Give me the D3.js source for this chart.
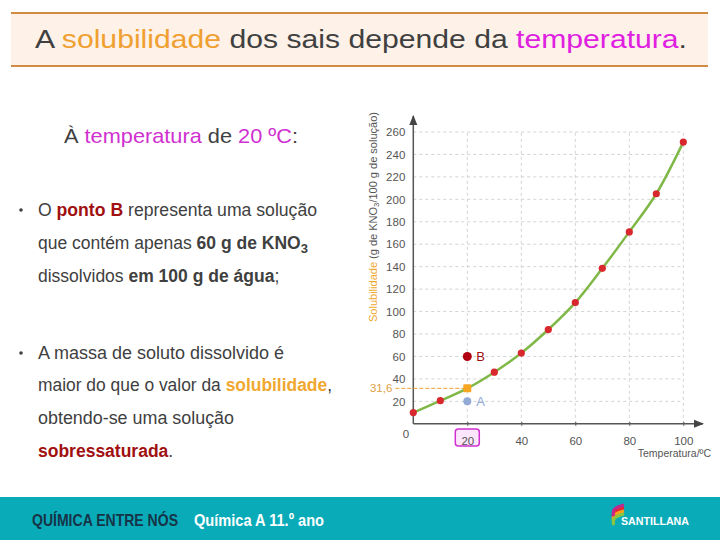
<!DOCTYPE html>
<html><head><meta charset="utf-8">
<script src="https://cdn.jsdelivr.net/npm/d3@7"></script>
<style>body{margin:0;background:#fff}svg{display:block}text{font-family:"Liberation Sans",Arial,sans-serif}</style>
</head><body><svg id="c" width="720" height="540"></svg>
<script>
// Data
const temperatures = [0, 10, 20, 30, 40, 50, 60, 70, 80, 90, 100];
const solubility   = [10, 20.6, 31.6, 46, 63, 84, 108, 138.5, 171, 205, 251];
const xTicks = [20, 40, 60, 80, 100];
const yTicks = [20, 40, 60, 80, 100, 120, 140, 160, 180, 200, 220, 240, 260];
const pointB = {t: 20, s: 60, label: "B"};
const pointA = {t: 20, s: 20, label: "A"};
const pointSat = {t: 20, s: 31.6, label: "31,6"};

const svg = d3.select("#c");

// Title bar
svg.append("rect").attr("x",11).attr("y",13).attr("width",697).attr("height",53).attr("fill","#fdf1e8");
svg.append("line").attr("x1",11).attr("x2",708).attr("y1",13).attr("y2",13).attr("stroke","#d18b43").attr("stroke-width",2);
svg.append("line").attr("x1",11).attr("x2",708).attr("y1",66).attr("y2",66).attr("stroke","#d18b43").attr("stroke-width",2);
const tt = svg.append("text").attr("x",35).attr("y",48).attr("font-size",26).attr("fill","#404040")
  .attr("textLength",652).attr("lengthAdjust","spacingAndGlyphs");
tt.append("tspan").text("A ");
tt.append("tspan").attr("fill","#f0a030").text("solubilidade");
tt.append("tspan").text(" dos sais depende da ");
tt.append("tspan").attr("fill","#e020e0").text("temperatura");
tt.append("tspan").text(".");

// Subtitle
const st = svg.append("text").attr("x",64).attr("y",143).attr("font-size",21).attr("fill","#404040")
  .attr("textLength",234).attr("lengthAdjust","spacingAndGlyphs");
st.append("tspan").text("À ");
st.append("tspan").attr("fill","#d030d0").text("temperatura");
st.append("tspan").text(" de ");
st.append("tspan").attr("fill","#d030d0").text("20 ºC");
st.append("tspan").text(":");

// Bullets
function line(y, parts, w){
  const t = svg.append("text").attr("x",38).attr("y",y).attr("font-size",17.5).attr("fill","#404040");
  parts.forEach(p=>{
    const s = t.append("tspan").text(p[0]);
    if(p[1]) s.attr("fill",p[1]);
    if(p[2]) s.attr("font-weight","bold");
    if(p[3]) s.attr("font-size",13).attr("dy",4);
  });
  if(w) t.attr("textLength",w).attr("lengthAdjust","spacingAndGlyphs");
  return t;
}
svg.append("circle").attr("cx",21).attr("cy",210).attr("r",1.8).attr("fill","#404040");
line(216, [["O "],["ponto B","#a01010",true],[" representa uma solução"]], 279);
line(249, [["que contém apenas "],["60 g de KNO",null,true],["3",null,true,true]]);
line(282, [["dissolvidos "],["em 100 g de água",null,true],[";"]]);
svg.append("circle").attr("cx",21).attr("cy",353).attr("r",1.8).attr("fill","#404040");
line(359, [["A massa de soluto dissolvido é"]], 246);
line(391, [["maior do que o valor da "],["solubilidade","#f0a830",true],[","]], 294);
line(424, [["obtendo-se uma solução"]], 196);
line(457, [["sobressaturada","#a01010",true],["."]]);

// Chart
const x = d3.scaleLinear().domain([0,100]).range([413.3,683.3]);
const y = d3.scaleLinear().domain([0,260]).range([423.8,132]);
const g = svg.append("g");
// grid
g.selectAll(".gx").data(xTicks).join("line").attr("x1",d=>x(d)).attr("x2",d=>x(d)).attr("y1",y(0)).attr("y2",y(260))
  .attr("stroke","#c8c8c8").attr("stroke-dasharray","3,3").attr("stroke-width",0.8);
g.selectAll(".gy").data(yTicks).join("line").attr("x1",x(0)).attr("x2",x(100)).attr("y1",d=>y(d)).attr("y2",d=>y(d))
  .attr("stroke","#c8c8c8").attr("stroke-dasharray","3,3").attr("stroke-width",0.8);

// highlight box around 20
svg.append("rect").attr("x",x(20)-12).attr("y",429).attr("width",24).attr("height",17).attr("rx",3)
  .attr("fill","#fbe6fb").attr("stroke","#d030d0").attr("stroke-width",1.5);

// axes
const xAx = d3.axisBottom(x).tickValues(xTicks).tickSize(4).tickFormat(d=>d);
const xg = svg.append("g").attr("transform",`translate(0,${y(0)})`).call(xAx);
xg.select(".domain").remove();
xg.selectAll(".tick line").attr("stroke","#555").attr("transform","translate(0,-2)");
xg.selectAll(".tick text").attr("font-size",11.5).attr("fill","#555").attr("dy","1.25em")
  .attr("font-family","Liberation Sans, Arial, sans-serif");
const yAx = d3.axisLeft(y).tickValues(yTicks).tickSize(0).tickPadding(8);
const yg = svg.append("g").attr("transform",`translate(${x(0)},0)`).call(yAx);
yg.select(".domain").remove();
yg.selectAll(".tick text").attr("font-size",11.5).attr("fill","#555").attr("font-family","Liberation Sans, Arial, sans-serif");

// axis lines with arrows
svg.append("defs").append("marker").attr("id","ar").attr("viewBox","0 0 10 10").attr("refX",9).attr("refY",5)
  .attr("markerWidth",7).attr("markerHeight",7).attr("orient","auto")
  .append("path").attr("d","M0,1L10,5L0,9Z").attr("fill","#444");
svg.append("line").attr("x1",x(0)).attr("x2",703).attr("y1",y(0)).attr("y2",y(0)).attr("stroke","#555").attr("stroke-width",1.5).attr("marker-end","url(#ar)");
svg.append("line").attr("x1",x(0)).attr("x2",x(0)).attr("y1",y(0)).attr("y2",116).attr("stroke","#555").attr("stroke-width",1.5).attr("marker-end","url(#ar)");
svg.append("text").attr("x",406).attr("y",438).attr("text-anchor","middle").attr("font-size",11.5).attr("fill","#555").text("0");

// axis titles
svg.append("text").attr("x",711).attr("y",457).attr("text-anchor","end").attr("font-size",10.5).attr("fill","#555").text("Temperatura/ºC");
const yt = svg.append("text").attr("transform","translate(377,322) rotate(-90)").attr("font-size",11.5).attr("fill","#555")
  .attr("textLength",210).attr("lengthAdjust","spacingAndGlyphs");
yt.append("tspan").attr("fill","#f0a830").text("Solubilidade");
yt.append("tspan").text(" (g de KNO");
yt.append("tspan").attr("font-size",8).attr("dy",2).text("3");
yt.append("tspan").attr("dy",-2).text("/100 g de solução)");

// saturation dashed line
svg.append("line").attr("x1",x(0)-18).attr("x2",x(pointSat.t)).attr("y1",y(pointSat.s)).attr("y2",y(pointSat.s))
  .attr("stroke","#f0a030").attr("stroke-dasharray","4,2").attr("stroke-width",1);
svg.append("text").attr("x",x(0)-21).attr("y",y(pointSat.s)+4).attr("text-anchor","end").attr("font-size",11.5).attr("fill","#e0a040").text(pointSat.label);

// curve
const data = temperatures.map((t,i)=>({t, s: solubility[i]}));
svg.append("path").datum(data).attr("fill","none").attr("stroke","#80b848").attr("stroke-width",2.5)
  .attr("d", d3.line().x(d=>x(d.t)).y(d=>y(d.s)).curve(d3.curveCatmullRom.alpha(0.5)));
svg.selectAll(".pt").data(data.filter(d=>d.t!==20)).join("circle").attr("cx",d=>x(d.t)).attr("cy",d=>y(d.s)).attr("r",3.6).attr("fill","#d8272d");

// special points
svg.append("rect").attr("x",x(pointSat.t)-4).attr("y",y(pointSat.s)-4).attr("width",8).attr("height",8).attr("rx",1).attr("fill","#f5a623");
svg.append("circle").attr("cx",x(pointB.t)).attr("cy",y(pointB.s)).attr("r",4.5).attr("fill","#b00010");
svg.append("text").attr("x",x(pointB.t)+9).attr("y",y(pointB.s)+5).attr("font-size",13).attr("fill","#a01010").text(pointB.label);
svg.append("circle").attr("cx",x(pointA.t)).attr("cy",y(pointA.s)).attr("r",4).attr("fill","#93a9d6");
svg.append("text").attr("x",x(pointA.t)+9).attr("y",y(pointA.s)+5).attr("font-size",13).attr("fill","#93a9d6").text(pointA.label);

// footer
svg.append("rect").attr("x",0).attr("y",497).attr("width",720).attr("height",43).attr("fill","#0aabb9");
svg.append("text").attr("x",32).attr("y",526).attr("font-size",17).attr("font-weight","bold").attr("fill","#163447")
  .attr("font-family","Liberation Sans Narrow, Arial Narrow, sans-serif").attr("textLength",146).attr("lengthAdjust","spacingAndGlyphs").text("QUÍMICA ENTRE NÓS");
svg.append("text").attr("x",194).attr("y",526).attr("font-size",17).attr("font-weight","bold").attr("fill","#ffffff")
  .attr("font-family","Liberation Sans Narrow, Arial Narrow, sans-serif").attr("textLength",130).attr("lengthAdjust","spacingAndGlyphs").text("Química A  11.º ano");
// logo
const lg = svg.append("g").attr("transform","translate(612,517)");
[["#e8262f",0],["#f7a21b",3],["#8dc63f",6],["#c3268f",-3]].forEach(([c,dy])=>{
  lg.append("path").attr("d",`M12,${-9+dy} Q-2,${-6+dy} 2,${2+dy}`).attr("fill","none").attr("stroke",c).attr("stroke-width",3);
});
svg.append("text").attr("x",621).attr("y",525).attr("font-size",11).attr("font-weight","bold").attr("fill","#fff")
  .attr("textLength",68).attr("lengthAdjust","spacingAndGlyphs").text("SANTILLANA");
</script></body></html>
